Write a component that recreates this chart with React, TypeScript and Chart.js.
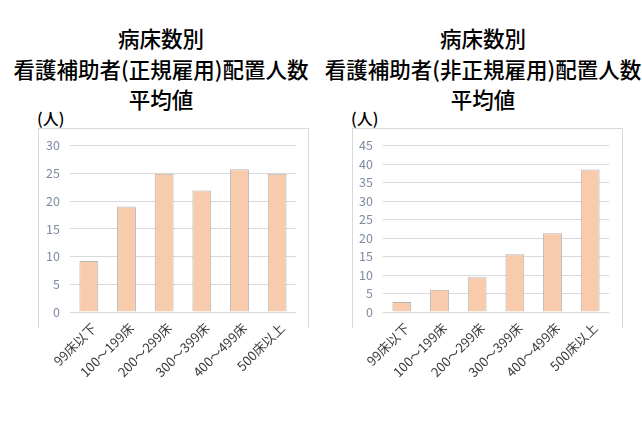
import { useEffect, useRef } from 'react';
import { Chart, registerables, type ChartConfiguration } from 'chart.js';

Chart.register(...registerables);

const categories = ['99床以下', '100～199床', '200～299床', '300～399床', '400～499床', '500床以上'];
const regularValues = [9.2, 19.0, 24.9, 21.9, 25.7, 24.9];
const nonRegularValues = [2.7, 6.0, 9.4, 15.6, 21.3, 38.5];
const regularTitle = ['病床数別', '看護補助者(正規雇用)配置人数', '平均値'];
const nonRegularTitle = ['病床数別', '看護補助者(非正規雇用)配置人数', '平均値'];
const unitLabel = '(人)';

const FONT = '"Noto Sans CJK JP", "Noto Sans", sans-serif';

interface PanelProps {
  title: string[];
  values: number[];
  yMax: number;
  titleCenter: number;
  frameLeft: number;
  yAxisWidth: number;
  rightPad: number;
}

function BarPanel({ title, values, yMax, titleCenter, frameLeft, yAxisWidth, rightPad }: PanelProps) {
  const canvasRef = useRef<HTMLCanvasElement>(null);

  useEffect(() => {
    const canvas = canvasRef.current;
    if (!canvas) return;

    const config: ChartConfiguration<'bar'> = {
      type: 'bar',
      data: {
        labels: categories,
        datasets: [{
          data: values,
          backgroundColor: '#f8cbad',
          borderColor: '#b4b4b4',
          borderWidth: 1,
          categoryPercentage: 1,
          barPercentage: 0.5,
        }],
      },
      options: {
        responsive: false,
        animation: false,
        layout: { padding: { top: 14, right: rightPad, bottom: 6, left: 0 } },
        plugins: { legend: { display: false }, tooltip: { enabled: false } },
        scales: {
          x: {
            grid: { display: false, drawTicks: false },
            border: { display: false },
            ticks: {
              color: '#3a3a3a',
              font: { family: FONT, size: 13 },
              minRotation: 45,
              maxRotation: 45,
              autoSkip: false,
              padding: 8,
              labelOffset: 5,
            },
            afterFit: (scale) => { scale.height = 70; },
          },
          y: {
            min: 0,
            max: yMax,
            grid: { color: '#d9d9d9', drawTicks: false },
            border: { display: false },
            ticks: {
              stepSize: 5,
              color: '#7d8ba3',
              font: { family: FONT, size: 12.5 },
              padding: 10,
            },
            afterFit: (scale) => { scale.width = yAxisWidth; },
          },
        },
      },
    };

    const chart = new Chart(canvas, config);
    return () => { chart.destroy(); };
  }, [values, yMax, yAxisWidth, rightPad]);

  return (
    <>
      <div style={{
        position: 'absolute', left: titleCenter - 170, top: 23, width: 340,
        textAlign: 'center', fontFamily: FONT, fontSize: 21.5, fontWeight: 500, lineHeight: '30.5px', color: '#000',
        whiteSpace: 'nowrap',
      }}>
        {title.map((line) => <div key={line}>{line}</div>)}
      </div>
      <div style={{
        position: 'absolute', left: frameLeft - 1, top: 107, fontFamily: FONT, fontSize: 16, fontWeight: 500,
        lineHeight: '22px', color: '#000',
      }}>{unitLabel}</div>
      <div style={{
        position: 'absolute', left: frameLeft, top: 128, width: 271, height: 200,
        borderTop: '1px solid #d9d9d9', borderLeft: '1px solid #d9d9d9', borderRight: '1px solid #d9d9d9',
        boxSizing: 'border-box',
      }} />
      <canvas ref={canvasRef} width={271} height={260}
        style={{ position: 'absolute', left: frameLeft, top: 128 }} />
    </>
  );
}

export default function App() {
  return (
    <div style={{ position: 'absolute', left: 0, top: 0, width: 642, height: 437, background: '#fff', overflow: 'hidden' }}>
      <BarPanel title={regularTitle} values={regularValues} yMax={30}
        titleCenter={161} frameLeft={38} yAxisWidth={32} rightPad={13} />
      <BarPanel title={nonRegularTitle} values={nonRegularValues} yMax={45}
        titleCenter={483} frameLeft={352} yAxisWidth={31} rightPad={14} />
    </div>
  );
}
